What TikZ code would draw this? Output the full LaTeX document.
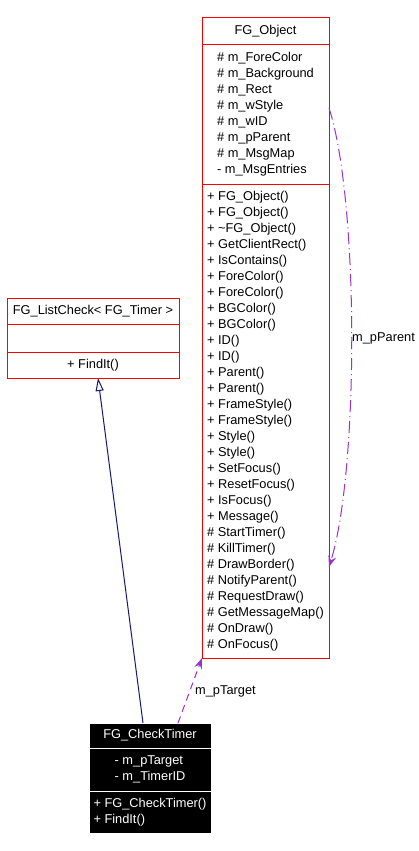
\documentclass[tikz,border=0pt]{standalone}
\usepackage{fontspec}
\setmainfont{Liberation Sans}
\usepackage{xcolor}
\definecolor{umlBorder}{HTML}{FF0000}
\definecolor{umlInherit}{HTML}{191970}
\definecolor{umlUsage}{HTML}{9A32CD}
\usetikzlibrary{arrows.meta}

\begin{document}
\begin{tikzpicture}[x=1pt, y=-1pt,
  classpart/.style={draw=umlBorder, fill=white, line width=1pt, anchor=north west, outer sep=0pt,
    inner sep=0pt, align=left, font=\fontsize{12.8}{16}\selectfont},
  activepart/.style={classpart, draw=white, fill=black, text=white},
  edgelabel/.style={anchor=west, inner sep=0pt, font=\fontsize{12.8}{16}\selectfont}]
  \filldraw[fill=white, draw=none] (0,0) rectangle (418,851);
  % FG_Object
  \node[classpart, minimum width=127pt, minimum height=27pt] (objName) at (202,18) {FG\_Object};
  \node[classpart, minimum width=127pt, minimum height=139pt] (objAttr) at (202,45)
    {\# m\_ForeColor\\\# m\_Background\\\# m\_Rect\\\# m\_wStyle\\\# m\_wID\\\# m\_pParent\\\# m\_MsgMap\\- m\_MsgEntries};
  \node[classpart, minimum width=127pt, minimum height=474pt] (objMeth) at (202,184)
    {+ FG\_Object()\\+ FG\_Object()\\+ \textasciitilde FG\_Object()\\+ GetClientRect()\\+ IsContains()\\
     + ForeColor()\\+ ForeColor()\\+ BGColor()\\+ BGColor()\\+ ID()\\+ ID()\\+ Parent()\\+ Parent()\\
     + FrameStyle()\\+ FrameStyle()\\+ Style()\\+ Style()\\+ SetFocus()\\+ ResetFocus()\\+ IsFocus()\\
     + Message()\\\# StartTimer()\\\# KillTimer()\\\# DrawBorder()\\\# NotifyParent()\\\# RequestDraw()\\
     \# GetMessageMap()\\\# OnDraw()\\\# OnFocus()};
  % FG_ListCheck
  \node[classpart, minimum width=172pt, minimum height=26pt] (lcName) at (7,298) {FG\_ListCheck< FG\_Timer >};
  \node[classpart, minimum width=172pt, minimum height=28pt] (lcAttr) at (7,324) {};
  \node[classpart, minimum width=172pt, minimum height=26pt] (lcMeth) at (7,352) {+ FindIt()};
  % FG_CheckTimer
  \node[activepart, minimum width=122pt, minimum height=25pt] (ctName) at (89,723) {FG\_CheckTimer};
  \node[activepart, minimum width=122pt, minimum height=43pt] (ctAttr) at (89,748) {- m\_pTarget\\- m\_TimerID};
  \node[activepart, minimum width=122pt, minimum height=42pt] (ctMeth) at (89,791) {+ FG\_CheckTimer()\\+ FindIt()};
  % relations
  \draw[umlInherit, line width=1pt, -{Triangle[open, length=13pt, width=8pt]}]
    ([xshift=-7pt]ctName.north) -- ([xshift=5pt]lcMeth.south);
  \draw[umlUsage, line width=1pt, dash pattern=on 7pt off 5pt, -{Stealth[length=11pt, width=8pt, inset=4pt]}]
    ([xshift=28pt]ctName.north) -- (objMeth.south west);
  \draw[umlUsage, line width=1pt, dash pattern=on 12pt off 4pt on 1pt off 4pt, -{Stealth[length=11pt, width=8pt, inset=4pt]}]
    ([yshift=6.5pt]objAttr.east) .. controls +(30,92) and +(30,-97) .. ([yshift=91pt]objMeth.south east);
  \node[edgelabel] (targetLabel) at (195,691) {m\_pTarget};
  \node[edgelabel] (parentLabel) at (352,338) {m\_pParent};
\end{tikzpicture}
\end{document}
